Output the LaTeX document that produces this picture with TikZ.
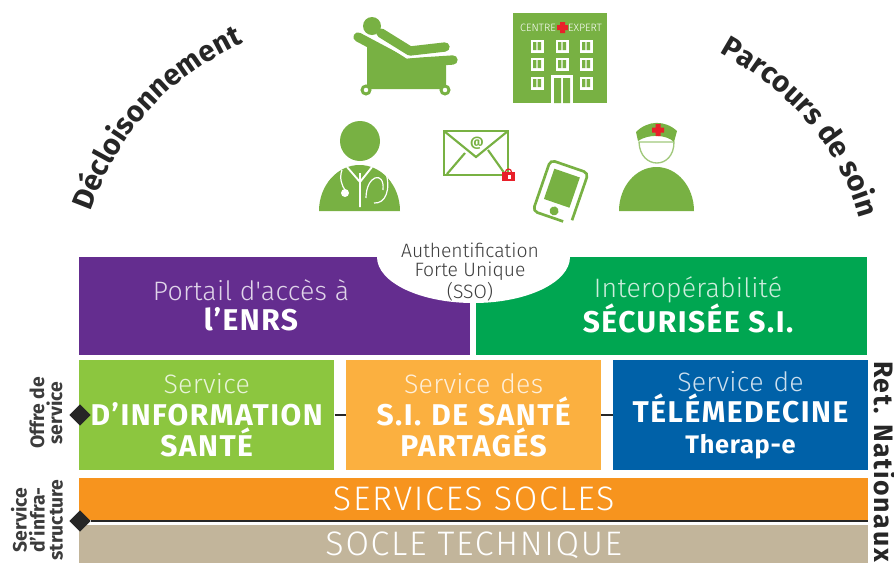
\documentclass[tikz,border=0pt]{standalone}
\usepackage{fontspec}
\setmainfont{Fira Sans}
\newfontfamily\lightfont{Fira Sans Light}
\usetikzlibrary{positioning,shapes.geometric,decorations.text}
\definecolor{iconGreen}{HTML}{78B143}
\definecolor{alertRed}{HTML}{E8202A}
\definecolor{portalPurple}{HTML}{642D8F}
\definecolor{interGreen}{HTML}{00A651}
\definecolor{infoGreen}{HTML}{8CC63F}
\definecolor{sharedOrange}{HTML}{FBB040}
\definecolor{teleBlue}{HTML}{0061A8}
\definecolor{socleOrange}{HTML}{F7941E}
\definecolor{techTan}{HTML}{C2B59B}
\definecolor{labelGrey}{HTML}{3C3C3C}
\tikzset{
    %Define style for boxes
    blocknode/.style={
             rectangle,
             inner sep=0pt,
             text=white,
             align=center},
    topnode/.style={
             blocknode,
             minimum height=73.5pt,
             minimum width=293.25pt},
    toplabel/.style={
             blocknode,
             font=\fontsize{22.5}{22.5}\selectfont},
    servicenode/.style={
             blocknode,
             minimum height=82.5pt,
             text width=191.25pt,
             font=\fontsize{22.5}{23.6}\selectfont},
    bandnode/.style={
             blocknode,
             minimum width=591.75pt,
             font=\lightfont\addfontfeature{LetterSpace=5}\fontsize{25.5}{25.5}\selectfont},
    sidelabel/.style={
             rotate=90,
             align=center,
             text=labelGrey,
             inner sep=0pt,
             font=\bfseries\fontsize{14.5}{13.5}\selectfont},
    joint/.style={
             diamond,
             fill=black!85,
             inner sep=0pt,
             minimum size=16pt},
    % Define line style
    linkline/.style={
            line width=1.8pt,
            black!85},
    iconfill/.style={fill=iconGreen},
    iconbar/.style={draw=iconGreen, line width=7pt, line cap=round, line join=round},
    iconline/.style={draw=iconGreen, line width=1.6pt},
    cutline/.style={draw=white, line width=0.9pt},
    % Define arc heading style
    archeading/.style={
            decorate,
            decoration={text along path, text align=center}}
}
\newcommand{\thinline}[2]{{\lightfont\color{white!80!#1}\addfontfeature{LetterSpace=1}\fontsize{20}{20}\selectfont #2}}
\newcommand{\boldline}[1]{{\bfseries\addfontfeature{LetterSpace=5}\fontsize{22.5}{22.5}\selectfont #1}}
\begin{document}
\begin{tikzpicture}[x=0.75pt, y=-0.75pt]
 \useasboundingbox (0,0) rectangle (894,562);
 % blocks
 \node[topnode, fill=portalPurple, anchor=north west] (portal) at (79,257) {};
 \node[topnode, fill=interGreen, right=4pt of portal] (inter) {};
 \node[toplabel] (portaltext) at (251,305) {\thinline{portalPurple}{Portail d'accès à}\\\boldline{l'ENRS}};
 \node[toplabel] (intertext) at (688,305) {\thinline{interGreen}{Interopérabilité}\\\boldline{SÉCURISÉE S.I.}};
 \fill[white] (377,257) arc[start angle=180, end angle=0, x radius=96.5, y radius=46] -- cycle;
 \node[align=center, text=labelGrey, inner sep=0pt, font=\lightfont\fontsize{14.5}{14.6}\selectfont] (sso) at (470,272)
    {Authentification\\Forte Unique\\(SSO)};
 \node[servicenode, fill=infoGreen, anchor=north west] (info) at (79,360)
    {\thinline{infoGreen}{Service}\\\boldline{D'INFORMATION}\\\boldline{SANTÉ}};
 \node[servicenode, fill=sharedOrange, right=8.5pt of info] (shared)
    {\thinline{sharedOrange}{Service des}\\\boldline{S.I. DE SANTÉ}\\\boldline{PARTAGÉS}};
 \node[servicenode, fill=teleBlue, right=8.5pt of shared] (tele)
    {\thinline{teleBlue}{Service de}\\\boldline{TÉLÉMEDECINE}\\{\bfseries\addfontfeature{LetterSpace=3}\fontsize{19}{19}\selectfont Therap-e}};
 \node[bandnode, fill=socleOrange, minimum height=31pt, anchor=north west] (socles) at (79,478)
    {SERVICES SOCLES};
 \node[bandnode, fill=techTan, minimum height=30pt, anchor=north west] (tech) at (79,525)
    {SOCLE TECHNIQUE};
 % joints and links
 \node[joint] (jointtop) at (80,415) {};
 \node[joint] (jointlow) at (80,521) {};
 \coordinate (lowend) at (868,521);
 \path (info) edge[linkline] (shared)
       (shared) edge[linkline] (tele)
       (jointlow) edge[linkline] (lowend);
 % side labels
 \node[sidelabel] (offre) at (46,413) {Offre de\\service};
 \node[sidelabel] (infra) at (37,520) {Service\\d'infra-\\structure};
 \node[rotate=-90, anchor=west, inner sep=0pt, text=black!85, font=\bfseries\addfontfeature{LetterSpace=6}\fontsize{20}{20}\selectfont] (ret) at (885,361) {Ret. Nationaux};
 % arc headings
 \path[archeading, decoration={text={|\bfseries\fontsize{22}{22}\selectfont\color{black!85}|Décloisonnement}}]
   (88,218) .. controls (118,130) and (170,75) .. (250,40);
 \path[archeading, decoration={text={|\bfseries\fontsize{22}{22}\selectfont\color{black!85}|Parcours de soin}}]
   (714,49) .. controls (786,88) and (841,143) .. (861,225);
 % chair
 \draw[iconbar] (381,33) -- (410,51) -- (445,47);
 \draw[iconbar] (358,37) -- (407,63) -- (453,60);
 \fill[iconfill] (367,43) -- (407,63) -- (446,62) -- (446,89) -- (367,89) -- cycle;
 \draw[cutline] (368,33) -- (407,58) -- (447,53);
 \fill[iconfill] (372,26) circle (9);
 \draw[iconline, fill=white, line width=2.2pt] (366,90) circle (4) (445,90) circle (4);
 % hospital
 \fill[iconfill] (513,13) rectangle (607,103);
 \node[text=white, inner sep=0pt, font=\lightfont\fontsize{8}{8}\selectfont] (centre) at (538,28) {CENTRE};
 \node[text=white, inner sep=0pt, font=\lightfont\fontsize{8}{8}\selectfont] (expert) at (585,28) {EXPERT};
 \fill[alertRed] (560,22) rectangle (565,33) (557,25) rectangle (568,30);
 \foreach \wx/\wy in {537/46,562/46,586/46,537/64,562/64,586/64,537/83,586/83}{
   \fill[white] (\wx-6.5,\wy-6.5) rectangle (\wx+6.5,\wy+6.5);
   \fill[iconGreen] (\wx-4,\wy-4) rectangle (\wx-0.7,\wy+4) (\wx+0.7,\wy-4) rectangle (\wx+4,\wy+4);
 }
 \fill[white] (551,75) rectangle (573,103);
 \fill[iconGreen] (554,78) rectangle (561,103) (563,78) rectangle (570,103);
 % doctor
 \fill[iconfill] (360,141) circle (20);
 \fill[iconfill] (319,211) arc[start angle=180, end angle=360, x radius=40.5, y radius=46] -- cycle;
 \draw[cutline, line width=1.4pt] (360,173) -- (360,207) (347,167) -- (360,182) -- (372,167);
 \draw[cutline] (342,170) .. controls (339,178) and (342,186) .. (345,190);
 \fill[white] (345,193) circle (4);
 \draw[cutline] (385,170) .. controls (392,190) and (385,204) .. (374,203);
 \draw[cutline] (366,198) .. controls (366,175) and (385,170) .. (383,190);
 % envelope
 \draw[iconline, line width=2pt] (444,131) rectangle (508,175);
 \draw[iconline] (444,131) -- (476,157) -- (508,131) (447,174) -- (465,153) (505,174) -- (488,150);
 \node[text=iconGreen, inner sep=0pt, font=\bfseries\fontsize{10}{10}\selectfont] (at) at (477,143) {@};
 \fill[alertRed] (502,172) rectangle (515,181);
 \draw[alertRed, line width=0.9pt] (505.5,172) arc[start angle=180, end angle=360, radius=3];
 \fill[white] (507.5,175) rectangle (510.5,179);
 % tablet
 \begin{scope}[shift={(560.6,192)}, rotate=-19]
  \draw[iconline, line width=2pt, rounded corners=3.5pt] (12,27) -- (-20,27) -- (-20,-27) -- (20,-27) -- (20,23);
  \fill[iconfill] (-13.5,-20) rectangle (13.5,12);
  \fill[iconfill] (0,20) circle (4.5);
 \end{scope}
 % nurse
 \fill[iconfill] (619,211) arc[start angle=180, end angle=360, x radius=37.5, y radius=44] -- cycle;
 \draw[draw=iconGreen!70, line width=1pt, fill=white] (639,142) .. controls (640,170) and (674,170) .. (674,142) -- cycle;
 \fill[iconfill] (636,132) .. controls (648,120) and (665,120) .. (677,131) -- (674,142) .. controls (666,134) and (648,134) .. (638,141) -- cycle;
 \fill[alertRed] (655.5,124) rectangle (660.5,136) (652,127.5) rectangle (664,132.5);
\end{tikzpicture}
\end{document}
